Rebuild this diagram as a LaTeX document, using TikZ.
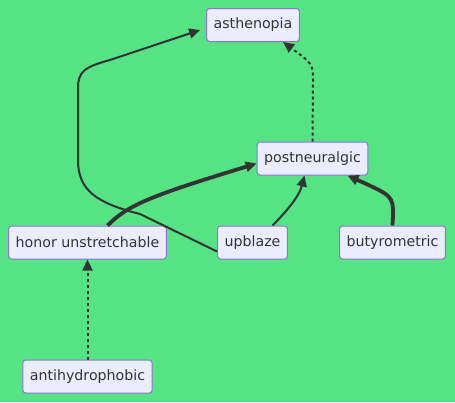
\documentclass[tikz,border=0pt]{standalone}
\usepackage{fontspec}
\setmainfont{DejaVu Sans}
\usetikzlibrary{arrows.meta,positioning}
\definecolor{bg}{HTML}{55E383}
\definecolor{nodefill}{HTML}{ECECFF}
\definecolor{nodeline}{HTML}{9370DB}
\definecolor{edgecol}{HTML}{333333}
\begin{document}
\begin{tikzpicture}[x=1pt,y=-1pt,>={Triangle[length=11pt,width=10pt]},
	box/.style={draw=nodeline,fill=nodefill,rounded corners=3pt,line width=1pt,
		text=edgecol,font=\fontsize{14.2}{16}\selectfont,inner xsep=7pt,minimum height=33pt},
	link/.style={->,draw=edgecol,line width=2pt},
	thick link/.style={link,line width=3.8pt},
	dot link/.style={link,dash pattern=on 3pt off 3pt}]
		\fill[bg] (0,0) rectangle (455,402);
		\node[box] (asth) at (253,25) {asthenopia};
		\node[box] (post) at (312.5,158.5) {postneuralgic};
		\node[box] (honor) at (87.5,242.5) {honor unstretchable};
		\node[box] (upbl) at (252.5,242.5) {upblaze};
		\node[box] (buty) at (392.5,242.5) {butyrometric};
		\node[box] (anti) at (87.5,376.5) {antihydrophobic};

		\draw[link] ([yshift=-9pt]upbl.west) -- (140,214) .. controls (96,203) and (78,190) .. (78,160)
			-- (78,88) .. controls (78,72) and (84,67) .. (110,60) -- ([xshift=-6pt,yshift=-5pt]asth.west);
		\draw[thick link] ([xshift=20pt]honor.north) .. controls (128,205) and (150,196) .. ([yshift=-5pt]post.west);
		\draw[link] ([xshift=20pt]upbl.north) .. controls (285,213) and (299,197) .. ([xshift=-8pt]post.south);
		\draw[thick link] (buty.north) -- (393,216) .. controls (393,196) .. ([xshift=35pt]post.south);
		\draw[dot link] (post.north) -- (313,82) .. controls (313,64) .. ([xshift=30pt]asth.south);
		\draw[dot link] (anti.north) -- (honor.south);
\end{tikzpicture}
\end{document}
